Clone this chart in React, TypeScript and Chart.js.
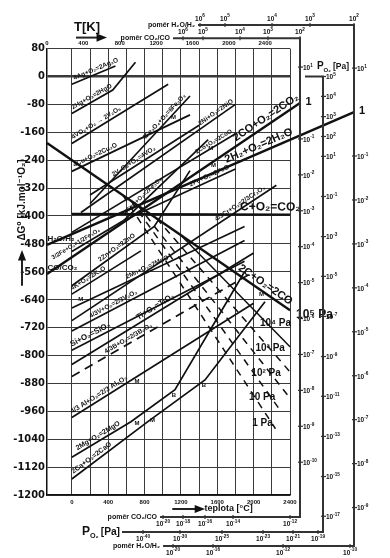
import React, { useEffect, useRef } from "react";
import { Chart, registerables } from "chart.js";
Chart.register(...registerables);

const FONT = "'Liberation Sans', Arial, 'DejaVu Sans', sans-serif";
const NARROW = "'Liberation Sans Narrow', 'DejaVu Sans Condensed', 'Liberation Sans', Arial, sans-serif";

// ---- axes ----
const X_MIN = -273;
const X_MAX = 2400;
const X_TICKS = [0, 200, 400, 600, 800, 1000, 1200, 1400, 1600, 1800, 2000, 2200, 2400];
const X_LABELED = [0, 400, 800, 1200, 1600, 2000, 2400];
const K_TICKS = [0, 400, 800, 1200, 1600, 2000, 2400];
const Y_TICKS = [80, 0, -80, -160, -240, -320, -400, -480, -560, -640, -720, -800, -880, -960, -1040, -1120, -1200];

// ---- reaction lines: [t °C, ΔG kJ/mol O2] ----
const AG2O = [[0, -22], [480, 30]];
const HGO = [[0, -106], [450, -39], [700, 41]];
const V2O5 = [[0, -192], [1060, -22]];
const CU2O = [[0, -272], [1300, -110]];
const FE2O3 = [[200, -365], [1300, -56]];
const NIO = [[100, -390], [1800, -80]];
const COO = [[0, -447], [1800, -164]];
const VO2 = [[200, -340], [1400, -140]];
const FEO_FE3O4 = [[570, -413], [1500, -181]];
const FEO = [[570, -413], [1800, -265]];
const FE_FE3O4 = [[0, -502], [570, -413]];
const CO2 = [[-273, -566], [2510, -76]];
const H2O = [[-273, -483], [3104, -102]];
const CR2O3 = [[0, -700], [2250, -312]];
const C_CO2 = [[0, -394], [2400, -396]];
const C_CO = [[-273, -191], [2400, -670]];
const CO_P4 = [[1200, -455], [2400, -775]];
const CO_P3 = [[933, -407], [2400, -847]];
const CO_P2 = [[728, -370], [2400, -922]];
const CO_P1 = [[651, -356], [2300, -960]];
const CO_P0 = [[563, -341], [2240, -1010]];
const ZNO = [[0, -600], [907, -430], [1300, -270]];
const K2O = [[0, -624], [760, -500]];
const MNO = [[0, -664], [1900, -430]];
const V2O3 = [[0, -730], [1900, -470]];
const SIO2 = [[0, -785], [1900, -530]];
const TIO2 = [[0, -826], [2000, -506]];
const B2O3 = [[0, -860], [2000, -560]];
const AL2O3 = [[0, -978], [2000, -650]];
const MGO = [[0, -1092], [650, -990], [1135, -898], [1900, -560]];
const CAO = [[0, -1154], [840, -989], [1465, -870], [2125, -646]];

type Pts = number[][];
const LINES: { key: string; pts: Pts; w: number; dash?: number[]; dot?: boolean }[] = [
  { key: "AG", pts: AG2O, w: 1.7 },
  { key: "HG", pts: HGO, w: 1.7 },
  { key: "V2O5", pts: V2O5, w: 1.7 },
  { key: "CU", pts: CU2O, w: 1.7 },
  { key: "FE2O3", pts: FE2O3, w: 1.7 },
  { key: "NI", pts: NIO, w: 1.7 },
  { key: "CO", pts: COO, w: 1.7 },
  { key: "VO2", pts: VO2, w: 1.7 },
  { key: "FEO3O4", pts: FEO_FE3O4, w: 1.7 },
  { key: "FEO", pts: FEO, w: 1.7 },
  { key: "FE3O4", pts: FE_FE3O4, w: 1.7 },
  { key: "CO2", pts: CO2, w: 2.4, dot: true },
  { key: "H2O", pts: H2O, w: 2.4, dot: true },
  { key: "CR", pts: CR2O3, w: 1.7 },
  { key: "C_CO2", pts: C_CO2, w: 2.4 },
  { key: "C_CO", pts: C_CO, w: 2.4 },
  { key: "P4", pts: CO_P4, w: 1.5 },
  { key: "P3", pts: CO_P3, w: 1.5, dash: [7, 6] },
  { key: "P2", pts: CO_P2, w: 1.5, dash: [7, 6] },
  { key: "P1", pts: CO_P1, w: 1.5, dash: [7, 6] },
  { key: "P0", pts: CO_P0, w: 1.5, dash: [7, 6] },
  { key: "ZN", pts: ZNO, w: 1.7 },
  { key: "K", pts: K2O, w: 1.7 },
  { key: "MN", pts: MNO, w: 1.7 },
  { key: "V", pts: V2O3, w: 1.7 },
  { key: "SI", pts: SIO2, w: 1.7 },
  { key: "TI", pts: TIO2, w: 1.7 },
  { key: "B", pts: B2O3, w: 1.7, dash: [9, 6] },
  { key: "AL", pts: AL2O3, w: 1.7 },
  { key: "MG", pts: MGO, w: 1.7 },
  { key: "CA", pts: CAO, w: 1.7 },
];
const LINE_BY_KEY: Record<string, Pts> = {};
LINES.forEach((l) => (LINE_BY_KEY[l.key] = l.pts));

const LINE_LABELS: { line: string; x: number; text: string; size: number }[] = [
  { line: "AG", x: 40, text: "4Ag+O₂=2Ag₂O", size: 6.5 },
  { line: "HG", x: 30, text: "2Hg+O₂=2HgO", size: 6.5 },
  { line: "V2O5", x: 30, text: "4VO₂+O₂ → 2V₂O₅", size: 6.5 },
  { line: "CU", x: 40, text: "4Cu+O₂=2Cu₂O", size: 6.5 },
  { line: "FE2O3", x: 830, text: "4Fe₃O₄+O₂=6Fe₂O₃", size: 6.5 },
  { line: "NI", x: 1430, text: "2Ni+O₂=2NiO", size: 6.5 },
  { line: "CO", x: 1390, text: "2Co+O₂=2CoO", size: 6 },
  { line: "CO2", x: 1830, text: "2CO+O₂=2CO₂", size: 11 },
  { line: "H2O", x: 1720, text: "2H₂+O₂=2H₂O", size: 11 },
  { line: "C_CO2", x: 1850, text: "C+O₂=CO₂", size: 12 },
  { line: "C_CO", x: 1800, text: "2C+O₂=2CO", size: 11 },
  { line: "CR", x: 1610, text: "4/3Cr+O₂=2/3Cr₂O₃", size: 6.5 },
  { line: "FEO", x: 1320, text: "2Fe+O₂=2FeO", size: 6.5 },
  { line: "FEO3O4", x: 620, text: "6FeO+O₂=2Fe₃O₄", size: 6 },
  { line: "VO2", x: 475, text: "2V₂O₃+O₂=4VO₂", size: 6.5 },
  { line: "FE3O4", x: -190, text: "3/2Fe+O₂=1/2Fe₃O₄", size: 6 },
  { line: "ZN", x: 330, text: "2Zn+O₂=2ZnO", size: 6.5 },
  { line: "K", x: 20, text: "4K+O₂=2K₂O", size: 6.5 },
  { line: "MN", x: 620, text: "2Mn+O₂=2MnO", size: 6.5 },
  { line: "V", x: 220, text: "4/3V+O₂=2/3V₂O₃", size: 6.5 },
  { line: "SI", x: 15, text: "Si+O₂=SiO₂", size: 8 },
  { line: "TI", x: 750, text: "Ti+O₂=TiO₂", size: 8 },
  { line: "B", x: 390, text: "4/3B+O₂=2/3B₂O₃", size: 6.5 },
  { line: "AL", x: 20, text: "4/3 Al+O₂=2/3 Al₂O₃", size: 7 },
  { line: "MG", x: 80, text: "2Mg+O₂=2MgO", size: 7 },
  { line: "CA", x: 40, text: "2Ca+O₂=2CaO", size: 7 },
];

const FREE_LABELS: { x: number; y: number; text: string; size: number }[] = [
  { x: 2466, y: -683, text: "10⁵ Pa", size: 12 },
  { x: 2070, y: -707, text: "10⁴ Pa", size: 10 },
  { x: 2020, y: -778, text: "10³ Pa", size: 10 },
  { x: 1975, y: -850, text: "10² Pa", size: 10 },
  { x: 1950, y: -920, text: "10 Pa", size: 10 },
  { x: 1985, y: -994, text: "1 Pa", size: 10 },
  { x: -268, y: -466, text: "H₂O/H₂", size: 8 },
  { x: -268, y: -548, text: "CO/CO₂", size: 8 },
  { x: 2570, y: -74, text: "1", size: 11 },
  { x: 3160, y: -100, text: "1", size: 11 },
  { x: 1090, y: -118, text: "M", size: 6 },
  { x: 1500, y: -205, text: "M", size: 6 },
  { x: 1530, y: -255, text: "M", size: 6 },
  { x: 70, y: -640, text: "M", size: 6 },
  { x: 690, y: -875, text: "M", size: 6 },
  { x: 690, y: -995, text: "M", size: 6 },
  { x: 860, y: -985, text: "M", size: 6 },
  { x: 2060, y: -625, text: "M'", size: 6 },
  { x: 1100, y: -915, text: "B", size: 6 },
  { x: 1430, y: -885, text: "B", size: 6 },
];

// ---- nomogram side scales (exponent of 10, position in chart units) ----
const CO_SCALE_X = 2510;
const PO2_SCALE_X = 2763;
const H2O_SCALE_X = 3104;
const CO_TOP_Y = 110;
const H2O_TOP_Y = 148;
const CO_BOT_Y = -1263;
const PO2_BOT_Y = -1306;
const H2O_BOT_Y = -1346;
const CO_RIGHT_TICKS = [[1, 27], [-1, -179], [-2, -282], [-3, -385], [-4, -488], [-5, -591], [-6, -694], [-7, -797], [-8, -900], [-9, -1003], [-10, -1106]];
const CO_TOP_TICKS = [[6, 1223], [5, 1443], [4, 1850], [3, 2158], [2, 2510]];
const CO_BOT_TICKS = [[-20, 1003], [-18, 1223], [-16, 1465], [-14, 1773], [-12, 2400]];
const PO2_RIGHT_TICKS = [[5, 0], [4, -57], [3, -115], [2, -172], [1, -229], [-1, -344], [-3, -459], [-5, -573], [-7, -688], [-9, -803], [-11, -917], [-13, -1032], [-15, -1147], [-17, -1261]];
const PO2_BOT_TICKS = [[-40, 783], [-30, 1190], [-25, 1652], [-23, 2103], [-21, 2433], [-19, 2708]];
const H2O_RIGHT_TICKS = [[1, 24], [-1, -228], [-2, -354], [-3, -480], [-4, -606], [-5, -732], [-6, -858], [-7, -984], [-8, -1110], [-9, -1236]];
const H2O_TOP_TICKS = [[6, 1410], [5, 1685], [4, 2202], [3, 2620], [2, 3104]];
const H2O_BOT_TICKS = [[-20, 1113], [-16, 1553], [-12, 2323], [-10, 3060]];

function drawPow(ctx: CanvasRenderingContext2D, exp: number, x: number, y: number, size: number, align: string) {
  const base = "10";
  const e = exp < 0 ? "-" + Math.abs(exp) : String(exp);
  ctx.font = `bold ${size}px ${FONT}`;
  const wb = ctx.measureText(base).width;
  ctx.font = `bold ${size * 0.72}px ${FONT}`;
  const we = ctx.measureText(e).width;
  const tot = wb + we;
  const x0 = align === "left" ? x : align === "center" ? x - tot / 2 : x - tot;
  ctx.textAlign = "left";
  ctx.textBaseline = "middle";
  ctx.font = `bold ${size}px ${FONT}`;
  ctx.fillText(base, x0, y);
  ctx.font = `bold ${size * 0.72}px ${FONT}`;
  ctx.fillText(e, x0 + wb, y - size * 0.42);
}

function arrow(ctx: CanvasRenderingContext2D, x1: number, y1: number, x2: number, y2: number) {
  ctx.beginPath();
  ctx.moveTo(x1, y1);
  ctx.lineTo(x2, y2);
  ctx.lineWidth = 2;
  ctx.stroke();
  const a = Math.atan2(y2 - y1, x2 - x1);
  ctx.beginPath();
  ctx.moveTo(x2 + 6 * Math.cos(a), y2 + 6 * Math.sin(a));
  ctx.lineTo(x2 + 6 * Math.cos(a + 2.4), y2 + 6 * Math.sin(a + 2.4));
  ctx.lineTo(x2 + 6 * Math.cos(a - 2.4), y2 + 6 * Math.sin(a - 2.4));
  ctx.closePath();
  ctx.fill();
}

const decor = {
  id: "decor",
  afterDraw(chart: any) {
    const ctx: CanvasRenderingContext2D = chart.ctx;
    const xs = chart.scales.x;
    const ys = chart.scales.y;
    const X = (v: number) => xs.getPixelForValue(v);
    const Y = (v: number) => ys.getPixelForValue(v);
    const ca = chart.chartArea;
    ctx.save();
    ctx.fillStyle = "#111";
    ctx.strokeStyle = "#222";

    // labels along lines
    for (const L of LINE_LABELS) {
      const pts = LINE_BY_KEY[L.line];
      let i = 0;
      while (i < pts.length - 2 && L.x > pts[i + 1][0]) i++;
      const [x1, y1] = pts[i];
      const [x2, y2] = pts[i + 1];
      const yv = y1 + ((L.x - x1) / (x2 - x1)) * (y2 - y1);
      const ang = Math.atan2(Y(y2) - Y(y1), X(x2) - X(x1));
      ctx.save();
      ctx.translate(X(L.x), Y(yv));
      ctx.rotate(ang);
      ctx.font = `bold ${L.size}px ${FONT}`;
      ctx.textAlign = "left";
      ctx.textBaseline = "bottom";
      ctx.fillText(L.text, 0, -1.5);
      ctx.restore();
    }
    for (const F of FREE_LABELS) {
      ctx.font = `bold ${F.size}px ${FONT}`;
      ctx.textAlign = "left";
      ctx.textBaseline = "middle";
      ctx.fillText(F.text, X(F.x), Y(F.y));
    }

    // y title
    ctx.save();
    ctx.translate(ca.left - 25, Y(-354));
    ctx.rotate(-Math.PI / 2);
    ctx.font = `bold 10px ${FONT}`;
    ctx.textAlign = "center";
    ctx.textBaseline = "middle";
    ctx.fillText("ΔG⁰ [kJ.mol⁻¹O₂]", 0, 0);
    ctx.restore();
    arrow(ctx, ca.left - 25, Y(-600), ca.left - 25, Y(-515));

    // top title T[K]
    ctx.font = `bold 13px ${FONT}`;
    ctx.textAlign = "left";
    ctx.textBaseline = "middle";
    ctx.fillText("T[K]", ca.left + 27, ca.top - 21);
    arrow(ctx, ca.left + 29, ca.top - 11, ca.left + 54, ca.top - 11);

    // bottom title
    arrow(ctx, X(1105), ca.bottom + 14, X(1400), ca.bottom + 14);
    ctx.font = `bold 9px ${FONT}`;
    ctx.textBaseline = "middle";
    ctx.fillText("teplota [°C]", X(1460), ca.bottom + 14);

    // side scales
    ctx.lineWidth = 2;
    ctx.strokeStyle = "#333";
    const poly = (p: number[][]) => {
      ctx.beginPath();
      p.forEach(([a, b], k) => (k ? ctx.lineTo(X(a), Y(b)) : ctx.moveTo(X(a), Y(b))));
      ctx.stroke();
    };
    poly([[1113, CO_TOP_Y], [CO_SCALE_X, CO_TOP_Y], [CO_SCALE_X, CO_BOT_Y], [970, CO_BOT_Y]]);
    poly([[2565, 0], [PO2_SCALE_X, 0], [PO2_SCALE_X, PO2_BOT_Y], [552, PO2_BOT_Y]]);
    poly([[1388, H2O_TOP_Y], [H2O_SCALE_X, H2O_TOP_Y], [H2O_SCALE_X, H2O_BOT_Y], [1003, H2O_BOT_Y]]);

    ctx.lineWidth = 1.2;
    const vt = (sx: number, ticks: number[][]) => {
      for (const [e, v] of ticks) {
        ctx.beginPath();
        ctx.moveTo(X(sx) - 2, Y(v));
        ctx.lineTo(X(sx) + 3, Y(v));
        ctx.stroke();
        drawPow(ctx, e, X(sx) + 3, Y(v) + 1, 6.5, "left");
      }
    };
    const ht = (sy: number, ticks: number[][], above: boolean) => {
      for (const [e, v] of ticks) {
        ctx.beginPath();
        ctx.moveTo(X(v), Y(sy) - 2);
        ctx.lineTo(X(v), Y(sy) + 2);
        ctx.stroke();
        drawPow(ctx, e, X(v), Y(sy) + (above ? -6 : 7), 6.5, "center");
      }
    };
    vt(CO_SCALE_X, CO_RIGHT_TICKS);
    vt(PO2_SCALE_X, PO2_RIGHT_TICKS);
    vt(H2O_SCALE_X, H2O_RIGHT_TICKS);
    ht(CO_TOP_Y, CO_TOP_TICKS, true);
    ht(H2O_TOP_Y, H2O_TOP_TICKS, true);
    ht(CO_BOT_Y, CO_BOT_TICKS, false);
    ht(PO2_BOT_Y, PO2_BOT_TICKS, false);
    ht(H2O_BOT_Y, H2O_BOT_TICKS, false);

    // scale titles
    ctx.textBaseline = "middle";
    ctx.textAlign = "right";
    ctx.font = `bold 7px ${FONT}`;
    ctx.fillText("poměr H₂O/H₂", X(1388) - 3, Y(H2O_TOP_Y));
    ctx.fillText("poměr CO₂/CO", X(1113) - 3, Y(CO_TOP_Y));
    ctx.fillText("poměr CO₂/CO", X(970) - 3, Y(CO_BOT_Y));
    ctx.fillText("poměr H₂O/H₂", X(1003) - 3, Y(H2O_BOT_Y));
    const po2 = (xr: number, y: number, s: number) => {
      ctx.textAlign = "left";
      ctx.font = `bold ${s}px ${FONT}`;
      const w1 = ctx.measureText("P").width;
      ctx.font = `bold ${s * 0.6}px ${FONT}`;
      const w2 = ctx.measureText("O₂").width;
      ctx.font = `bold ${s * 0.85}px ${FONT}`;
      const w3 = ctx.measureText("[Pa]").width;
      const x0 = xr - (w1 + w2 + w3 + 2);
      ctx.font = `bold ${s}px ${FONT}`;
      ctx.fillText("P", x0, y);
      ctx.font = `bold ${s * 0.6}px ${FONT}`;
      ctx.fillText("O₂", x0 + w1, y + s * 0.35);
      ctx.font = `bold ${s * 0.85}px ${FONT}`;
      ctx.fillText("[Pa]", x0 + w1 + w2 + 2, y);
    };
    po2(X(552) - 2, Y(PO2_BOT_Y), 12);
    po2(X(PO2_SCALE_X) + 26, Y(0) - 10, 10);
    ctx.restore();
  },
};

export default function App() {
  const ref = useRef<HTMLCanvasElement>(null);
  useEffect(() => {
    document.body.style.margin = "0";
    const datasets = LINES.map((l) => ({
      label: l.key,
      data: l.pts.map(([x, y]) => ({ x, y })),
      showLine: true,
      borderColor: "#111",
      backgroundColor: "#111",
      borderWidth: l.w,
      borderDash: l.dash || [],
      pointRadius: l.pts.map((_, i) => (l.dot && i === l.pts.length - 1 ? 3.5 : 0)),
      pointHoverRadius: 0,
      clip: l.dot ? false : 2,
      tension: 0,
    }));
    const chart = new Chart(ref.current as HTMLCanvasElement, {
      type: "scatter",
      data: { datasets } as any,
      options: {
        responsive: false,
        animation: false,
        devicePixelRatio: 1,
        layout: { padding: { left: 0, right: 100, top: 0, bottom: 0 } },
        plugins: { legend: { display: false }, tooltip: { enabled: false } },
        scales: {
          x: {
            type: "linear",
            position: "bottom",
            min: X_MIN,
            max: X_MAX,
            afterBuildTicks: (s: any) => {
              s.ticks = X_TICKS.map((v) => ({ value: v }));
            },
            afterFit: (s: any) => {
              s.height = 63;
            },
            ticks: {
              autoSkip: false,
              maxRotation: 0,
              padding: 4,
              color: "#111",
              font: { size: 6, weight: "bold", family: FONT },
              callback: (v: any) => (X_LABELED.includes(v) ? String(v) : ""),
            },
            grid: { color: "#3a3a3a", lineWidth: 1, drawTicks: false },
            border: { color: "#111", width: 1.5 },
          },
          xTop: {
            type: "linear",
            position: "top",
            min: X_MIN,
            max: X_MAX,
            afterBuildTicks: (s: any) => {
              s.ticks = K_TICKS.map((k) => ({ value: k - 273 }));
            },
            afterFit: (s: any) => {
              s.height = 48.6;
            },
            ticks: {
              autoSkip: false,
              maxRotation: 0,
              padding: 2,
              color: "#111",
              font: { size: 6, weight: "bold", family: FONT },
              callback: (v: any) => String(Math.round(v + 273)),
            },
            grid: { display: false, drawTicks: false },
            border: { display: false },
          },
          y: {
            type: "linear",
            min: -1200,
            max: 80,
            afterBuildTicks: (s: any) => {
              s.ticks = Y_TICKS.map((v) => ({ value: v }));
            },
            afterFit: (s: any) => {
              s.width = 47;
            },
            ticks: {
              autoSkip: false,
              padding: 2,
              color: "#111",
              font: { size: 11, weight: "bold", family: NARROW },
              callback: (v: any) => String(v),
            },
            grid: {
              color: "#3a3a3a",
              lineWidth: (c: any) => (c.tick && c.tick.value === 0 ? 2.4 : 1),
              drawTicks: false,
            },
            border: { color: "#111", width: 1.5 },
          },
        },
      } as any,
      plugins: [decor],
    });
    return () => chart.destroy();
  }, []);
  return (
    <div style={{ width: 390, height: 558 }}>
      <canvas ref={ref} width={390} height={558} style={{ display: "block" }} />
    </div>
  );
}
